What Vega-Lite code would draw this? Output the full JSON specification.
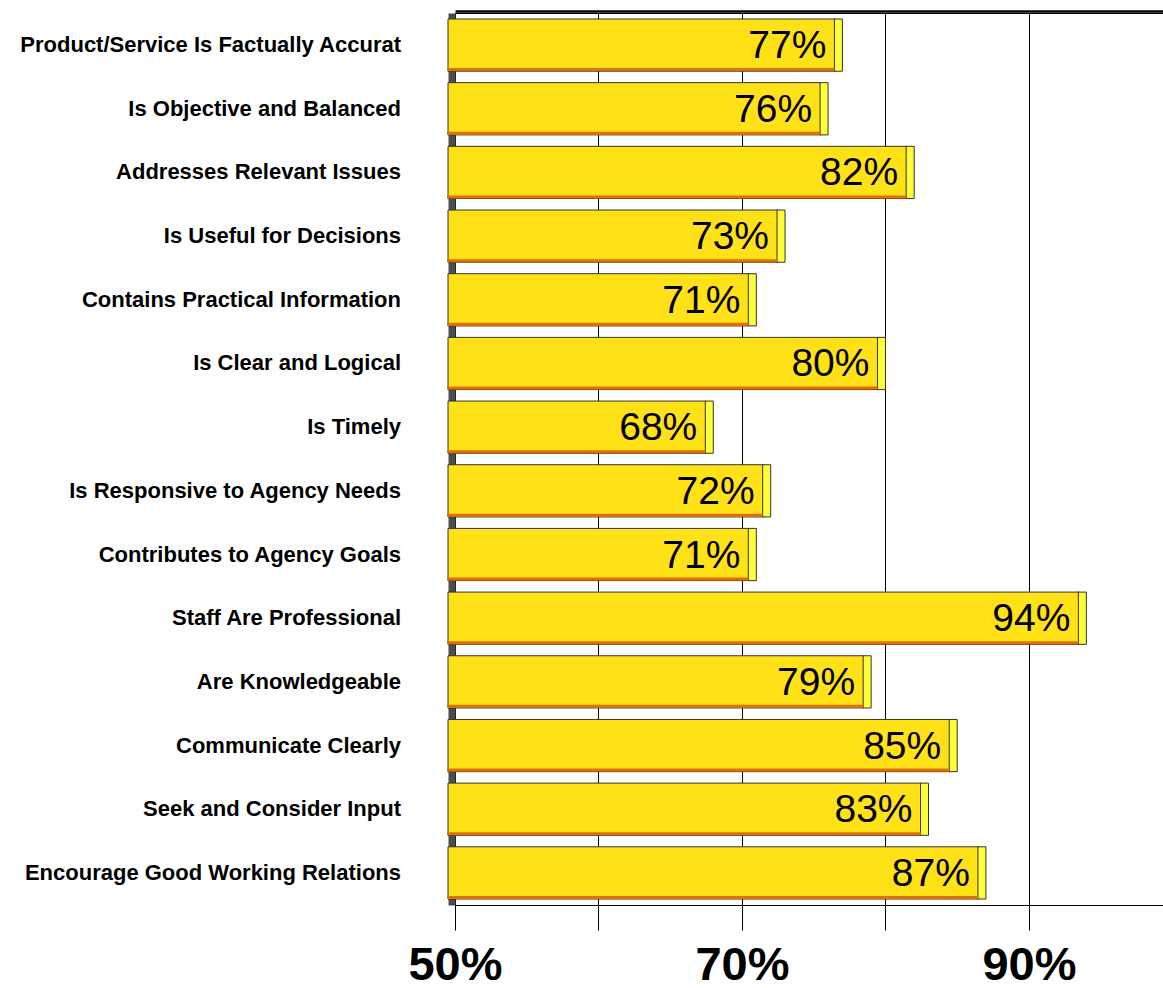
{
  "$schema": "https://vega.github.io/schema/vega-lite/v6.json",
  "autosize": {"type": "none"},
  "padding": {"left": 455, "top": 13, "right": 0, "bottom": 83},
  "width": 708,
  "height": 892,
  "background": "white",
  "config": {"view": {"stroke": "black", "strokeWidth": 1}},
  "data": {"values": [
    {"label": "Product/Service Is Factually Accurat", "value": 77},
    {"label": "Is Objective and Balanced", "value": 76},
    {"label": "Addresses Relevant Issues", "value": 82},
    {"label": "Is Useful for Decisions", "value": 73},
    {"label": "Contains Practical Information", "value": 71},
    {"label": "Is Clear and Logical", "value": 80},
    {"label": "Is Timely", "value": 68},
    {"label": "Is Responsive to Agency Needs", "value": 72},
    {"label": "Contributes to Agency Goals", "value": 71},
    {"label": "Staff Are Professional", "value": 94},
    {"label": "Are Knowledgeable", "value": 79},
    {"label": "Communicate Clearly", "value": 85},
    {"label": "Seek and Consider Input", "value": 83},
    {"label": "Encourage Good Working Relations", "value": 87}
  ]},
  "encoding": {
    "y": {
      "field": "label", "type": "nominal", "sort": null, "title": null,
      "scale": {"paddingInner": 0.18, "paddingOuter": 0.094},
      "axis": {
        "offset": 3.5, "ticks": false, "domainColor": "#4d4d4d", "domainWidth": 7,
        "labelFont": "Liberation Sans", "labelFontWeight": "bold", "labelFontSize": 22,
        "labelColor": "black", "labelPadding": 51, "labelLimit": 440
      }
    }
  },
  "layer": [
    {
      "mark": {"type": "bar", "fill": "#FFE118", "stroke": "#333333", "strokeWidth": 1, "xOffset": -7, "x2Offset": -7},
      "encoding": {
        "x": {"field": "value", "type": "quantitative", "title": null,
          "scale": {"domain": [50, 99.34], "nice": false, "zero": false, "clamp": true},
          "axis": {"orient": "bottom", "values": [50, 60, 70, 80, 90],
            "labelExpr": "datum.value % 20 == 10 ? datum.value + '%' : ''",
            "grid": true, "gridColor": "black", "gridWidth": 1, "gridOpacity": 1,
            "domainColor": "black", "tickColor": "black", "tickSize": 25,
            "labelFont": "Liberation Sans", "labelFontWeight": "bold", "labelFontSize": 47,
            "labelColor": "black", "labelPadding": 12, "labelFlush": false, "labelOverlap": false}}
      }
    },
    {
      "mark": {"type": "bar", "fill": "#FFFF38", "stroke": "#333333", "strokeWidth": 1, "xOffset": -8, "x2Offset": 0},
      "encoding": {
        "x": {"field": "value", "type": "quantitative", "axis": null},
        "x2": {"field": "value"}
      }
    },
    {
      "mark": {"type": "bar", "fill": "#E07000", "height": 3, "yOffset": 24.5, "xOffset": -8, "x2Offset": -6},
      "encoding": {
        "x": {"field": "value", "type": "quantitative", "axis": null}
      }
    },
    {
      "mark": {"type": "text", "align": "right", "baseline": "middle", "dx": -16, "dy": 1, "font": "Liberation Sans", "fontSize": 39, "color": "black", "text": {"expr": "datum.value + '%'"}},
      "encoding": {
        "x": {"field": "value", "type": "quantitative",
          "axis": {"orient": "top", "labels": false, "ticks": false, "grid": false, "domainColor": "black", "domainWidth": 2.5, "offset": 2, "title": null}}
      }
    }
  ],
  "resolve": {"axis": {"x": "independent"}}
}
